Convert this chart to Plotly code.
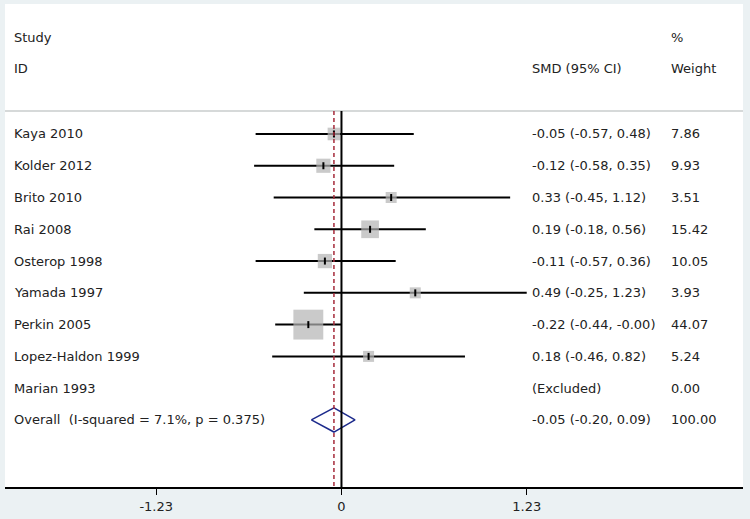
import math
import plotly.graph_objects as go

studies = ["Kaya 2010", "Kolder 2012", "Brito 2010", "Rai 2008", "Osterop 1998",
           "Yamada 1997", "Perkin 2005", "Lopez-Haldon 1999", "Marian 1993"]
smd = [-0.05, -0.12, 0.33, 0.19, -0.11, 0.49, -0.22, 0.18, None]
ci_low = [-0.57, -0.58, -0.45, -0.18, -0.57, -0.25, -0.44, -0.46, None]
ci_high = [0.48, 0.35, 1.12, 0.56, 0.36, 1.23, -0.00, 0.82, None]
smd_text = ["-0.05 (-0.57, 0.48)", "-0.12 (-0.58, 0.35)", "0.33 (-0.45, 1.12)",
            "0.19 (-0.18, 0.56)", "-0.11 (-0.57, 0.36)", "0.49 (-0.25, 1.23)",
            "-0.22 (-0.44, -0.00)", "0.18 (-0.46, 0.82)", "(Excluded)"]
weights = [7.86, 9.93, 3.51, 15.42, 10.05, 3.93, 44.07, 5.24, 0.00]
weight_text = ["7.86", "9.93", "3.51", "15.42", "10.05", "3.93", "44.07", "5.24", "0.00"]

overall_label = "Overall  (I-squared = 7.1%, p = 0.375)"
overall_est = -0.05
overall_low = -0.20
overall_high = 0.09
overall_text = "-0.05 (-0.20, 0.09)"
overall_weight = "100.00"

tick_vals = [-1.23, 0, 1.23]
tick_text = ["-1.23", "0", "1.23"]

FONT = "DejaVu Sans, Verdana, sans-serif"
TXT = "#222222"

fig = go.Figure()

rows = list(range(len(studies)))
overall_row = len(studies)

# CI lines
lx, ly = [], []
for i in rows:
    if smd[i] is None:
        continue
    lx += [ci_low[i], ci_high[i], None]
    ly += [i, i, None]
fig.add_trace(go.Scatter(x=lx, y=ly, mode="lines",
                         line=dict(color="black", width=2), hoverinfo="skip"))

# weight squares
sx = [smd[i] for i in rows if smd[i] is not None]
sy = [i for i in rows if smd[i] is not None]
ss = [max(11, 4.5 * math.sqrt(weights[i])) for i in rows if smd[i] is not None]
fig.add_trace(go.Scatter(x=sx, y=sy, mode="markers",
                         marker=dict(symbol="square", size=ss, color="#b4b4b4",
                                     line=dict(width=0)), hoverinfo="skip"))
# point estimate ticks
fig.add_trace(go.Scatter(x=sx, y=sy, mode="markers",
                         marker=dict(symbol="line-ns", size=5,
                                     line=dict(color="black", width=2)),
                         hoverinfo="skip"))

# diamond
h = 0.38
fig.add_trace(go.Scatter(
    x=[overall_low, overall_est, overall_high, overall_est, overall_low],
    y=[overall_row, overall_row - h, overall_row, overall_row + h, overall_row],
    mode="lines", line=dict(color="#1c2a8c", width=1.5), hoverinfo="skip"))

y_top = -4.09
y_bot = 11.11
sep_y = -0.72

shapes = [
    dict(type="line", xref="paper", yref="y", x0=0, x1=1, y0=sep_y, y1=sep_y,
         line=dict(color="#c9cccd", width=1.5)),
    dict(type="line", xref="x", yref="y", x0=0, x1=0, y0=sep_y, y1=y_bot,
         line=dict(color="black", width=2)),
    dict(type="line", xref="x", yref="y", x0=overall_est, x1=overall_est,
         y0=sep_y, y1=y_bot, line=dict(color="#a52a3a", width=1.5, dash="4px,3px")),
]

annotations = []
def txt(x, y, s):
    annotations.append(dict(x=x, y=y, xref="paper", yref="y", text=s,
                            showarrow=False, xanchor="left", yanchor="middle",
                            font=dict(family=FONT, size=13, color=TXT)))

col_study = 0.0095
col_smd = 0.712
col_w = 0.9
txt(col_study, -3.05, "Study")
txt(col_study, -2.05, "ID")
txt(col_smd, -2.05, "SMD (95% CI)")
txt(col_w, -3.05, "%")
txt(col_w, -2.05, "Weight")
for i in rows:
    txt(col_study, i, studies[i])
    txt(col_smd, i, smd_text[i])
    txt(col_w, i, weight_text[i])
txt(col_study, overall_row, overall_label)
txt(col_smd, overall_row, overall_text)
txt(col_w, overall_row, overall_weight)

fig.update_layout(
    width=750, height=519,
    margin=dict(l=5, r=7, t=4, b=32),
    paper_bgcolor="#ebf1f3",
    plot_bgcolor="white",
    showlegend=False,
    shapes=shapes,
    annotations=annotations,
    xaxis=dict(range=[-2.234, 2.666], tickvals=tick_vals, ticktext=tick_text,
               showgrid=False, zeroline=False, showline=True,
               linecolor="black", linewidth=2, ticks="outside", ticklen=6,
               tickwidth=1, tickcolor="black", fixedrange=True,
               tickfont=dict(family=FONT, size=13, color=TXT)),
    yaxis=dict(range=[y_bot, y_top], showgrid=False, zeroline=False,
               showticklabels=False, showline=False, fixedrange=True),
)

fig.write_html("out.html", config={"displayModeBar": False},
               post_script="document.body.style.margin='0';document.body.style.padding='0';")
